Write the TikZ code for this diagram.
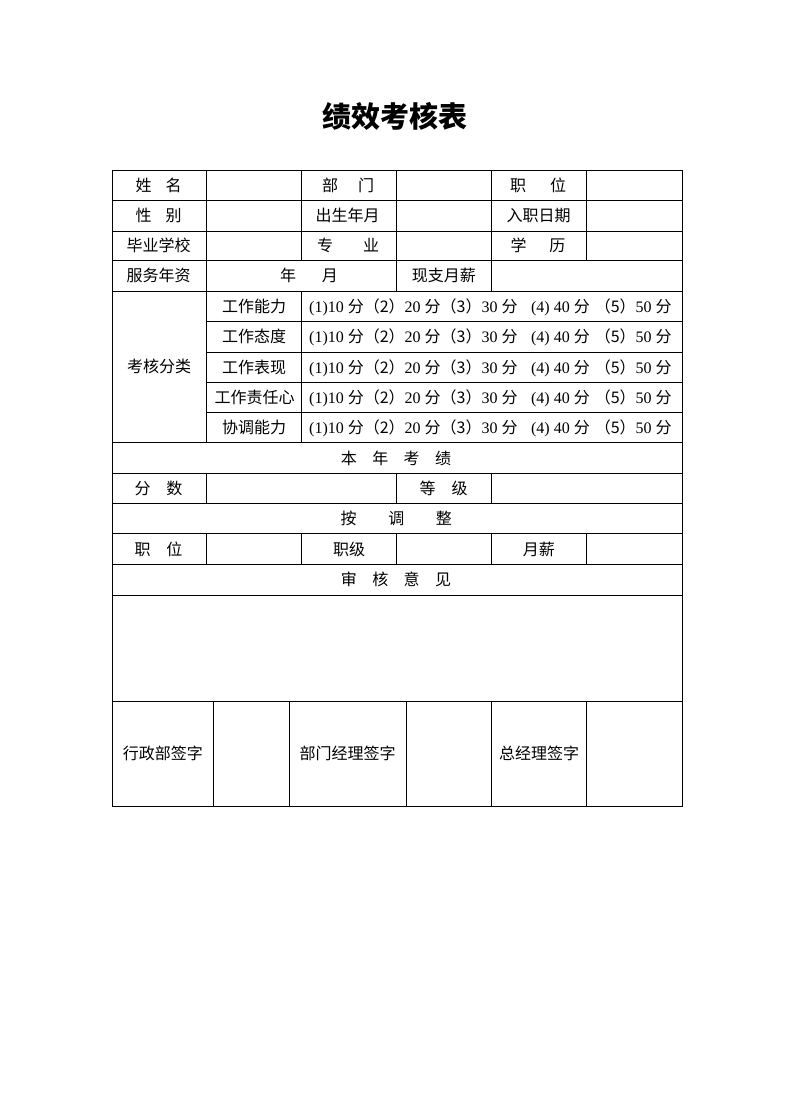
\documentclass[tikz,border=0pt]{standalone}
\usepackage{fontspec}
\setmainfont{Liberation Serif}
\newfontfamily\cjk{Noto Sans CJK SC}
\newcommand\zh[1]{{\cjk #1}}
\newcommand\scoreline{(1)10 \zh{分（2）}20 \zh{分（3）}30 \zh{分}\hspace{13.5pt}(4) 40 \zh{分}\hspace{5pt}\zh{（5）}50 \zh{分}}
\tikzset{
  grid/.style={line width=1pt, line cap=rect},
  lbl/.style={font=\cjk\fontsize{16}{16}\selectfont, inner sep=0pt, text height=14.1pt, text depth=1.9pt},
  score/.style={font=\fontsize{16}{16}\selectfont, inner sep=0pt, text height=14.1pt, text depth=1.9pt, anchor=west},
  titlestyle/.style={font=\cjk\bfseries\fontsize{29}{29}\selectfont, inner sep=0pt}
}
\begin{document}
\begin{tikzpicture}[x=1pt,y=-1pt]
\useasboundingbox[fill=white] (0,0) rectangle (790,1119);
% title
\node[titlestyle] (title) at (394.5,116.7) {绩效考核表};
% outer border
\draw[grid] (112.3,170) rectangle (682.3,806);
% horizontal lines
\foreach \y in {200.7,231,260.7,291,442.5,473.3,503.3,533.7,564.3,595,701.7}
  \draw[grid] (112.3,\y) -- (682.3,\y);
\foreach \y in {321,352.7,382.7,412.7}
  \draw[grid] (206.3,\y) -- (682.3,\y);
% vertical lines
\draw[grid] (206.3,170) -- (206.3,442.5);
\draw[grid] (206.3,473.3) -- (206.3,503.3);
\draw[grid] (206.3,533.7) -- (206.3,564.3);
\draw[grid] (301.7,170) -- (301.7,260.7);
\draw[grid] (301.7,291) -- (301.7,442.5);
\draw[grid] (301.7,533.7) -- (301.7,564.3);
\draw[grid] (396,170) -- (396,291);
\draw[grid] (396,473.3) -- (396,503.3);
\draw[grid] (396,533.7) -- (396,564.3);
\draw[grid] (491.7,170) -- (491.7,291);
\draw[grid] (491.7,473.3) -- (491.7,503.3);
\draw[grid] (491.7,533.7) -- (491.7,564.3);
\draw[grid] (491.7,701.7) -- (491.7,806);
\draw[grid] (586.7,170) -- (586.7,260.7);
\draw[grid] (586.7,533.7) -- (586.7,564.3);
\draw[grid] (586.7,701.7) -- (586.7,806);
\draw[grid] (213.3,701.7) -- (213.3,806);
\draw[grid] (289.3,701.7) -- (289.3,806);
\draw[grid] (406,701.7) -- (406,806);
% row 1
\node[lbl] (xm) at (158.5,185.3) {姓\hspace{14pt}名};
\node[lbl] (bm) at (348,185.3) {部\hspace{20pt}门};
\node[lbl] (zw) at (538,185.3) {职\hspace{24pt}位};
% row 2
\node[lbl] (xb) at (158.5,215.8) {性\hspace{14pt}别};
\node[lbl] (cs) at (347.5,215.8) {出生年月};
\node[lbl] (rz) at (538.5,215.8) {入职日期};
% row 3
\node[lbl] (by) at (158.5,245.8) {毕业学校};
\node[lbl] (zy) at (348,245.8) {专\hspace{30pt}业};
\node[lbl] (xl) at (538,245.8) {学\hspace{23pt}历};
% row 4
\node[lbl] (fw) at (158.5,275.8) {服务年资};
\node[lbl] (ny) at (309,275.8) {年\hspace{25.7pt}月};
\node[lbl] (xz) at (443.8,275.8) {现支月薪};
% assessment
\node[lbl] (khfl) at (159,366.8) {考核分类};
\node[lbl] (k1) at (254,306) {工作能力};
\node[lbl] (k2) at (254,336.8) {工作态度};
\node[lbl] (k3) at (254,367.7) {工作表现};
\node[lbl] (k4) at (254.5,397.7) {工作责任心};
\node[lbl] (k5) at (254,427.6) {协调能力};
\node[score] (s1) at (309,306) {\scoreline};
\node[score] (s2) at (309,336.8) {\scoreline};
\node[score] (s3) at (309,367.7) {\scoreline};
\node[score] (s4) at (309,397.7) {\scoreline};
\node[score] (s5) at (309,427.6) {\scoreline};
% lower part
\node[lbl] (bnkj) at (396,458) {本\hspace{15.4pt}年\hspace{15.4pt}考\hspace{15.4pt}绩};
\node[lbl] (fs) at (158.5,488.3) {分\hspace{15.7pt}数};
\node[lbl] (dj) at (443.5,488.3) {等\hspace{16pt}级};
\node[lbl] (atz) at (396.3,518.5) {按\hspace{31.7pt}调\hspace{31.7pt}整};
\node[lbl] (zw2) at (158.5,549) {职\hspace{15.7pt}位};
\node[lbl] (zj) at (349,549) {职级};
\node[lbl] (yx) at (538.8,549) {月薪};
\node[lbl] (shyj) at (396,579.7) {审\hspace{15.4pt}核\hspace{15.4pt}意\hspace{15.4pt}见};
% signatures
\node[lbl] (xzb) at (162.8,753.8) {行政部签字};
\node[lbl] (bmjl) at (347.7,753.8) {部门经理签字};
\node[lbl] (zjl) at (539.2,753.8) {总经理签字};
\end{tikzpicture}
\end{document}
